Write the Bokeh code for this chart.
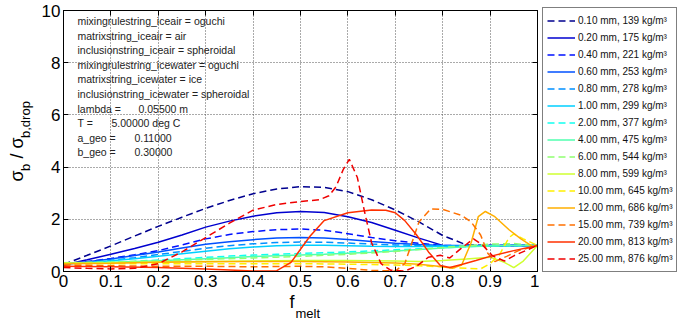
import math
from bokeh.plotting import figure
from bokeh.layouts import row, column
from bokeh.models import (Range1d, FixedTicker, LinearAxis, Legend, LegendItem, Label)
from bokeh.embed import file_html
from bokeh.resources import INLINE

FONT = "Liberation Sans"

# ---------------- data ----------------
labels = ["0.10 mm, 139 kg/m\u00b3", "0.20 mm, 175 kg/m\u00b3", "0.40 mm, 221 kg/m\u00b3",
          "0.60 mm, 253 kg/m\u00b3", "0.80 mm, 278 kg/m\u00b3", "1.00 mm, 299 kg/m\u00b3",
          "2.00 mm, 377 kg/m\u00b3", "4.00 mm, 475 kg/m\u00b3", "6.00 mm, 544 kg/m\u00b3",
          "8.00 mm, 599 kg/m\u00b3", "10.00 mm, 645 kg/m\u00b3", "12.00 mm, 686 kg/m\u00b3",
          "15.00 mm, 739 kg/m\u00b3", "20.00 mm, 813 kg/m\u00b3", "25.00 mm, 876 kg/m\u00b3"]
colors = ["#00008F", "#0000CF", "#0010FF", "#0050FF", "#0090FF", "#00CFFF", "#10FFEF",
          "#50FFAF", "#90FF70", "#CFFF30", "#FFEF00", "#FFAF00", "#FF7000", "#FF3000", "#EF0000"]
dashed = [True, False, True, False, True, False, True, False, True, False, True, False, True, False, True]

f_grid = [0, .05, .1, .15, .2, .25, .3, .35, .4, .45, .5, .55, .6, .65, .7, .75, .8, .85, .9, .95, 1.0]

y_010 = [.27, .62, .98, 1.36, 1.73, 2.08, 2.42, 2.72, 2.98, 3.16, 3.25, 3.22, 3.06, 2.75, 2.36, 1.9, 1.38, 1.02, 1.0, 1.0, 1.0]
y_020 = [.25, .45, .66, .88, 1.12, 1.4, 1.7, 1.93, 2.12, 2.25, 2.3, 2.26, 2.1, 1.88, 1.58, 1.28, 1.0, .97, .98, 1.0, 1.0]
y_040 = [.25, .38, .5, .64, .8, 1.02, 1.25, 1.42, 1.53, 1.6, 1.63, 1.58, 1.45, 1.3, 1.18, 1.08, 1.0, .98, 1.0, 1.0, 1.0]
y_060 = [.27, .37, .48, .61, .75, .9, 1.04, 1.14, 1.22, 1.28, 1.3, 1.28, 1.23, 1.15, 1.08, 1.03, 1.0, 1.0, 1.0, 1.0, 1.0]
y_080 = [.28, .35, .43, .53, .65, .77, .89, .99, 1.06, 1.11, 1.13, 1.12, 1.09, 1.05, 1.02, 1.0, .99, .99, 1.0, 1.0, 1.0]
y_100 = [.29, .34, .41, .49, .58, .68, .78, .87, .94, .99, 1.01, 1.01, .99, .97, .96, .96, .97, .98, .99, 1.0, 1.0]
y_200 = [.3, .32, .35, .39, .44, .49, .54, .59, .63, .66, .69, .72, .75, .79, .83, .87, .91, .95, .98, .99, 1.0]
y_400 = [.32, .33, .35, .38, .41, .45, .49, .53, .57, .6, .63, .66, .7, .74, .79, .84, .9, .95, .98, 1.0, 1.0]
y_600 = [.34, .35, .36, .38, .4, .43, .46, .49, .52, .55, .58, .62, .66, .71, .77, .84, .92, .99, 1.05, 1.07, 1.0]

f_800 = [0, .1, .2, .3, .4, .5, .6, .7, .75, .8, .85, .9, .93, .95, .97, 1.0]
y_800 = [.33, .34, .36, .38, .4, .42, .42, .4, .38, .42, .48, .55, .35, .15, .4, 1.0]

f_1000 = [0, .1, .2, .3, .4, .5, .6, .7, .75, .8, .85, .88, .9, .92, .94, .95, .97, 1.0]
y_1000 = [.3, .3, .3, .3, .3, .3, .28, .25, .22, .18, .12, .1, .3, .65, 1.3, 1.44, 1.25, 1.0]

f_1200 = [0, .1, .2, .3, .4, .5, .6, .7, .75, .8, .82, .84, .86, .875, .89, .91, .94, .965, .99, 1.0]
y_1200 = [.3, .32, .35, .37, .38, .38, .36, .33, .28, .18, .12, .25, 1.1, 2.1, 2.3, 2.1, 1.6, 1.25, .95, 1.0]

f_1500 = [0, .1, .2, .3, .4, .5, .55, .6, .65, .7, .72, .735, .75, .775, .8, .84, .86, .88, .895, .91, .935, .96, 1.0]
y_1500 = [.25, .22, .2, .2, .18, .2, .18, .12, .04, .02, .3, 1.1, 1.9, 2.4, 2.38, 2.15, 1.9, 1.4, .7, .38, .58, .8, 1.0]

f_2000 = [0, .1, .2, .3, .35, .4, .45, .48, .5, .52, .55, .6, .65, .68, .7, .72, .745, .77, .795, .815, .84, .87, .9, .95, 1.0]
y_2000 = [.2, .18, .15, .1, .06, .02, .03, .35, .85, 1.35, 1.95, 2.25, 2.36, 2.35, 2.25, 1.95, 1.4, .75, .23, .15, .27, .42, .58, .8, 1.0]

f_2500 = [0, .05, .1, .15, .2, .25, .3, .35, .4, .45, .5, .54, .56, .575, .59, .603, .62, .635, .65, .67, .69, .72,
          .745, .77, .795, .815, .84, .865, .885, .905, .93, .95, .975, 1.0]
y_2500 = [.15, .12, .1, .12, .3, .75, 1.3, 1.85, 2.35, 2.57, 2.68, 2.75, 2.9, 3.25, 3.9, 4.3, 3.6, 2.3, 1.1, .3, .05, .02,
          .2, .55, .62, .52, .9, 1.25, 1.0, .6, .4, .6, .8, 1.0]

series_x = [f_grid] * 9 + [f_800, f_1000, f_1200, f_1500, f_2000, f_2500]
series_y = [y_010, y_020, y_040, y_060, y_080, y_100, y_200, y_400, y_600,
            y_800, y_1000, y_1200, y_1500, y_2000, y_2500]

x_ticks = [0, .1, .2, .3, .4, .5, .6, .7, .8, .9, 1]
x_tick_labels = ["0", "0.1", "0.2", "0.3", "0.4", "0.5", "0.6", "0.7", "0.8", "0.9", "1"]
y_ticks = [0, 2, 4, 6, 8, 10]

info_names = ["mixingrulestring_iceair = oguchi", "matrixstring_iceair = air",
              "inclusionstring_iceair = spheroidal", "mixingrulestring_icewater = oguchi",
              "matrixstring_icewater = ice", "inclusionstring_icewater = spheroidal",
              "lambda =", "T =", "a_geo =", "b_geo ="]
info_values = ["", "", "", "", "", "", "0.05500 m", "5.00000 deg C", "0.11000", "0.30000"]

# ---------------- layout geometry (canvas pixels) ----------------
W, H = 682, 325
FL, FR, FT, FB = 63, 537, 10, 271   # frame edges on the canvas
YLAB_W = 35                          # strip with the y-axis title
RB = 2                               # right border of the main figure (right ticks)
MAIN_W = FR + RB - YLAB_W            # main figure width
LEG_W = W - YLAB_W - MAIN_W          # strip with the legend
MAIN_H = 294                         # main figure height; strip below holds the x title
XLAB_H = H - MAIN_H

p = figure(width=MAIN_W, height=MAIN_H, x_range=Range1d(0, 1), y_range=Range1d(0, 10),
           output_backend="svg", toolbar_location=None,
           min_border_left=FL - YLAB_W, min_border_right=RB,
           min_border_top=FT, min_border_bottom=MAIN_H - FB)
p.background_fill_color = "white"
p.border_fill_color = "white"
p.outline_line_color = "black"
p.outline_line_width = 1

fw, fh = FR - FL, FB - FT

def sx(px):  # canvas px -> data x
    return (px - FL) / fw

def sy(py):  # canvas py -> data y
    return (FB - py) / fh * 10

for ax in (p.xaxis[0], p.yaxis[0]):
    ax.major_tick_in = 5
    ax.major_tick_out = 0
    ax.minor_tick_in = 0
    ax.minor_tick_out = 0
    ax.major_label_text_font = FONT
    ax.major_label_text_font_size = "17px"
    ax.major_label_text_color = "black"
    ax.axis_line_color = "black"
    ax.major_tick_line_color = "black"
    ax.major_label_standoff = 3
p.xaxis.ticker = FixedTicker(ticks=x_ticks)
p.xaxis.major_label_overrides = {t: s for t, s in zip(x_ticks, x_tick_labels)}
p.yaxis.ticker = FixedTicker(ticks=y_ticks)

for loc, tick in (("above", x_ticks), ("right", y_ticks)):
    ax = LinearAxis(ticker=FixedTicker(ticks=tick), major_label_text_font_size="1px",
                    major_label_overrides={t: "" for t in tick},
                    major_label_standoff=0, major_tick_in=5, major_tick_out=0,
                    minor_tick_in=0, minor_tick_out=0, axis_line_color="black")
    p.add_layout(ax, loc)

p.xgrid.ticker = FixedTicker(ticks=x_ticks[1:-1])
p.ygrid.ticker = FixedTicker(ticks=y_ticks[1:-1])
for g in (p.xgrid, p.ygrid):
    g.grid_line_color = "#555555"
    g.grid_line_dash = "1 2"
    g.grid_line_width = 1

for xs, ys, c, d in zip(series_x, series_y, colors, dashed):
    p.line(xs, ys, line_color=c, line_width=1.5, line_dash="7 4" if d else "solid")

# info text block inside the axes
line_y = [20.5, 35.1, 49.7, 64.3, 78.9, 93.5, 108.1, 122.7, 137.3, 151.9]
val_x = [0, 0, 0, 0, 0, 0, 138, 111, 134, 134]
for name, val, py, vx in zip(info_names, info_values, line_y, val_x):
    p.add_layout(Label(x=sx(77), y=sy(py), text=name, text_font=FONT, text_font_size="10.5px",
                       text_color="#222222", text_baseline="middle"))
    if val:
        p.add_layout(Label(x=sx(vx), y=sy(py), text=val, text_font=FONT, text_font_size="10.5px",
                           text_color="#222222", text_baseline="middle"))

# ---------------- y-axis title strip ----------------
ylab = figure(width=YLAB_W, height=H, x_range=Range1d(0, YLAB_W), y_range=Range1d(H, 0),
              x_axis_type=None, y_axis_type=None, output_backend="svg", toolbar_location=None,
              min_border=0, outline_line_color=None)
ylab.background_fill_color = "white"
ylab.border_fill_color = "white"
ang = math.pi / 2
ylab_parts = [("\u03c3", 26, 181.0, "18px"), ("b", 32, 170.5, "13px"),
              ("\u00a0/\u00a0\u03c3", 26, 163.0, "18px"), ("b,drop", 32, 137.5, "13px")]
for txt, bx, by, fs in ylab_parts:
    ylab.add_layout(Label(x=bx, y=by, text=txt, angle=ang, text_font=FONT,
                          text_font_size=fs, text_color="black"))

# ---------------- x-axis title strip (frame aligned with main frame) ----------------
xlab = figure(width=MAIN_W, height=XLAB_H, x_range=Range1d(FL, FR), y_range=Range1d(H, MAIN_H),
              x_axis_type=None, y_axis_type=None, output_backend="svg", toolbar_location=None,
              min_border_left=FL - YLAB_W, min_border_right=RB, min_border_top=0,
              min_border_bottom=0, outline_line_color=None)
xlab.background_fill_color = "white"
xlab.border_fill_color = "white"
xlab.add_layout(Label(x=289, y=311, text="f", text_font=FONT, text_font_size="18px",
                      text_color="black"))
xlab.add_layout(Label(x=295, y=320, text="melt", text_font=FONT, text_font_size="13px",
                      text_color="black"))

# ---------------- legend strip ----------------
legfig = figure(width=LEG_W, height=H, x_range=Range1d(5, 6), y_range=Range1d(0, 10),
                x_axis_type=None, y_axis_type=None, output_backend="svg", toolbar_location=None,
                min_border=0, outline_line_color=None)
legfig.background_fill_color = "white"
legfig.border_fill_color = "white"
items = []
for xs, ys, c, d, lab in zip(series_x, series_y, colors, dashed, labels):
    r = legfig.line(xs, ys, line_color=c, line_width=1.5, line_dash="7 4" if d else "solid")
    items.append(LegendItem(label=lab, renderers=[r]))
leg_left = 542 - (YLAB_W + MAIN_W)
leg = Legend(items=items, location=(leg_left, H - 272), orientation="vertical",
             glyph_width=28, glyph_height=17, label_height=17, spacing=0, padding=4, margin=0,
             label_standoff=3, label_text_font=FONT, label_text_font_size="10px",
             label_text_color="#111111", border_line_color="black", border_line_width=1,
             background_fill_alpha=1)
legfig.add_layout(leg, "center")

layout = row(ylab, column(p, xlab), legfig)
open("out.html", "w").write(file_html(layout, INLINE))
